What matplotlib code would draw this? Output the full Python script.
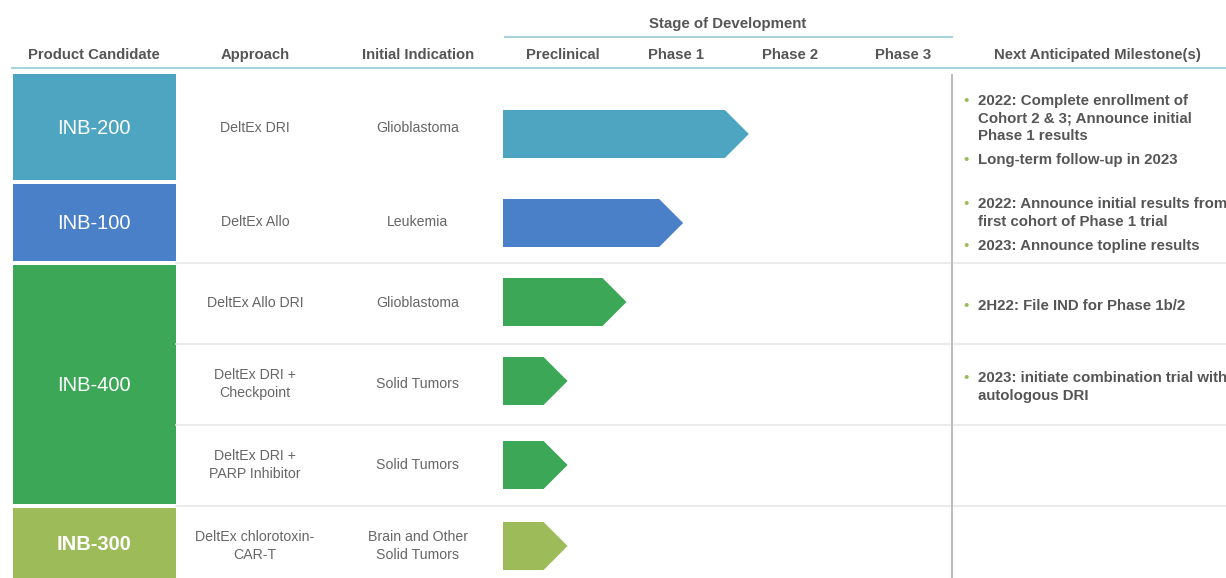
"""Pipeline chart: product candidates and stage of development"""
import matplotlib.pyplot as plt
from matplotlib.patches import Polygon, Rectangle

plt.rcParams['font.family'] = ['Liberation Sans', 'DejaVu Sans']

# Data
candidates = ['INB-200', 'INB-100', 'INB-400', 'INB-300']
candidate_colors = ['#4ea5c1', '#4a80c8', '#3ca757', '#9dbb58']
candidate_rows = [[0], [1], [2, 3, 4], [5]]

approaches = ['DeltEx DRI', 'DeltEx Allo', 'DeltEx Allo DRI', 'DeltEx DRI +\nCheckpoint',
              'DeltEx DRI +\nPARP Inhibitor', 'DeltEx chlorotoxin-\nCAR-T']
indications = ['Glioblastoma', 'Leukemia', 'Glioblastoma', 'Solid Tumors',
               'Solid Tumors', 'Brain and Other\nSolid Tumors']
row_candidate = [0, 1, 2, 2, 2, 3]
# progress measured in stages (0 = start of Preclinical, 1 = start of Phase 1, ...)
progress = [2.17, 1.59, 1.09, 0.57, 0.57, 0.57]

stages = ['Preclinical', 'Phase 1', 'Phase 2', 'Phase 3']
milestones = [
    ['2022: Complete enrollment of\nCohort 2 & 3; Announce initial\nPhase 1 results',
     'Long-term follow-up in 2023'],
    ['2022: Announce initial results from\nfirst cohort of Phase 1 trial',
     '2023: Announce topline results'],
    ['2H22: File IND for Phase 1b/2'],
    ['2023: initiate combination trial with\nautologous DRI'],
    [],
    [],
]

# Layout (pixels)
W, H = 1226, 578
row_edges = [72, 182, 263, 344, 425, 506, 590]
text_y = [128, 222, 303, 384, 465, 546]
arrow_y = [134, 223, 302, 381, 465, 546]
bullet_y = [[103, 162], [206, 248], [308], [380], [], []]
HEAD = '#555555'
BODY = '#666666'
LINE = '#a9d4de'

fig = plt.figure(figsize=(W / 100, H / 100), dpi=100)
ax = fig.add_axes([0, 0, 1, 1])
ax.set_xlim(0, W)
ax.set_ylim(H, 0)
ax.axis('off')

# headers
ax.text(728, 24, 'Stage of Development', ha='center', va='center', fontsize=10.8,
        fontweight='bold', color=HEAD)
ax.plot([505, 952], [37, 37], color=LINE, lw=1.5)
for x, t in [(94, 'Product Candidate'), (255, 'Approach'), (418, 'Initial Indication'),
             (1097, 'Next Anticipated Milestone(s)')]:
    ax.text(x, 55, t, ha='center', va='center', fontsize=10.7, fontweight='bold', color=HEAD)
ax.plot([12, W], [68, 68], color=LINE, lw=1.5)

# row separators and vertical divider
for y in row_edges[2:6]:
    ax.plot([176, W], [y, y], color='#e8e8e8', lw=1.2)
ax.plot([952, 952], [75, H], color='#bdbdbd', lw=1.5)

# candidate boxes
for name, col, rows in zip(candidates, candidate_colors, candidate_rows):
    top = row_edges[rows[0]] + 2
    bot = row_edges[rows[-1] + 1] - 2
    yc = (top + bot) / 2 if rows[-1] < 5 else text_y[5]
    ax.add_patch(Rectangle((13, top), 163, bot - top, facecolor=col, edgecolor='none'))
    ax.text(94, yc + 1 if rows[-1] < 5 else yc - 1, name, ha='center', va='center',
            fontsize=14.5, color='white',
            fontweight='bold' if name == 'INB-300' else 'normal')

# approach, indication, milestones
for i in range(len(approaches)):
    yc = text_y[i]
    ax.text(255, yc, approaches[i], ha='center', va='center', fontsize=10.2,
            color=BODY, linespacing=1.45)
    ax.text(418, yc, indications[i], ha='center', va='center', fontsize=10.2,
            color=BODY, linespacing=1.45)
    for txt, y in zip(milestones[i], bullet_y[i]):
        ax.text(966, y - 2, '•', ha='center', va='center', fontsize=11, color='#9dbb58')
        ax.text(978, y - 9, txt, ha='left', va='top', fontsize=10.8, fontweight='bold',
                color=HEAD, linespacing=1.32)

# stage axes: one unit per stage
unit = 113.3
sax = fig.add_axes([503 / W, 0, 4 * unit / W, 1])
sax.set_xlim(0, 4)
sax.set_ylim(H, 0)
sax.axis('off')
sax.patch.set_alpha(0)
for k, s in enumerate(stages):
    sax.text(k + 0.53, 55, s, ha='center', va='center', fontsize=10.7,
             fontweight='bold', color=HEAD)

tip = 24 / unit
half = 24
for i, p in enumerate(progress):
    c = candidate_colors[row_candidate[i]]
    y = arrow_y[i]
    pts = [(0, y - half), (p - tip, y - half), (p, y), (p - tip, y + half), (0, y + half)]
    sax.add_patch(Polygon(pts, closed=True, facecolor=c, edgecolor='none'))

plt.savefig('out.png', dpi=100, facecolor='white')
plt.close()
